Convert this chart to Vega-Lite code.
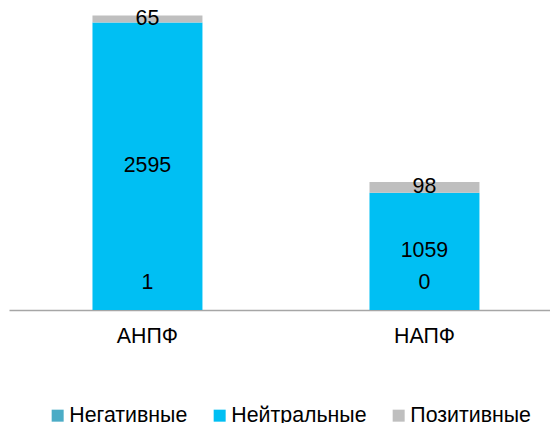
{
  "$schema": "https://vega.github.io/schema/vega-lite/v6.json",
  "autosize": "none",
  "padding": {"left": 9, "top": 0, "right": 0, "bottom": 113},
  "width": 541,
  "height": 310,
  "background": "white",
  "config": {"view": {"stroke": null}, "font": "Liberation Sans"},
  "data": {"values": [
    {"fund": "АНПФ", "type": "Негативные", "ord": 1, "value": 1},
    {"fund": "АНПФ", "type": "Нейтральные", "ord": 2, "value": 2595},
    {"fund": "АНПФ", "type": "Позитивные", "ord": 3, "value": 65},
    {"fund": "НАПФ", "type": "Негативные", "ord": 1, "value": 0},
    {"fund": "НАПФ", "type": "Нейтральные", "ord": 2, "value": 1059},
    {"fund": "НАПФ", "type": "Позитивные", "ord": 3, "value": 98}
  ]},
  "transform": [
    {"stack": "value", "groupby": ["fund"], "sort": [{"field": "ord", "order": "ascending"}], "as": ["y0", "y1"]},
    {"calculate": "(datum.y0 + datum.y1) / 2", "as": "ymid"}
  ],
  "encoding": {
    "x": {
      "field": "fund", "type": "nominal", "sort": ["АНПФ", "НАПФ"],
      "scale": {"paddingInner": 0.603, "paddingOuter": 0.278, "align": 0.542},
      "axis": {"title": null, "labelAngle": 0, "ticks": false, "labelFontSize": 21.33, "labelColor": "#000000", "labelPadding": 15, "domainColor": "#A6A6A6", "domainWidth": 1.5, "grid": false}
    }
  },
  "layer": [
    {
      "mark": {"type": "bar"},
      "encoding": {
        "y": {"field": "y1", "type": "quantitative", "scale": {"domain": [0, 2800], "nice": false}, "axis": null},
        "y2": {"field": "y0"},
        "color": {
          "field": "type", "type": "nominal",
          "scale": {"domain": ["Негативные", "Нейтральные", "Позитивные"], "range": ["#4BACC6", "#00BFF3", "#BFBFBF"]},
          "legend": {"title": null, "orient": "none", "direction": "horizontal", "legendX": 38, "legendY": 405, "symbolType": "square", "symbolSize": 144, "symbolStrokeWidth": 0, "labelFontSize": 21.33, "labelColor": "#000000", "labelOffset": 1, "columnPadding": 21, "padding": 0}
        }
      }
    },
    {
      "transform": [{"filter": "datum.ord != 1"}],
      "mark": {"type": "text", "fontSize": 21.33, "color": "#000000"},
      "encoding": {
        "y": {"field": "ymid", "type": "quantitative"},
        "text": {"field": "value", "type": "quantitative"}
      }
    },
    {
      "transform": [{"filter": "datum.ord == 1"}],
      "mark": {"type": "text", "fontSize": 21.33, "color": "#000000", "dy": -27},
      "encoding": {
        "y": {"field": "ymid", "type": "quantitative"},
        "text": {"field": "value", "type": "quantitative"}
      }
    }
  ]
}
